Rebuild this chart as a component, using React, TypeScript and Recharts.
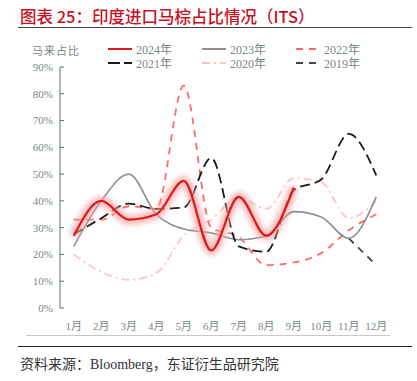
import React from 'react';
import { LineChart, Line, XAxis, YAxis } from 'recharts';

const months = ['1月', '2月', '3月', '4月', '5月', '6月', '7月', '8月', '9月', '10月', '11月', '12月'];
const y2024 = [27, 40, 33, 35, 47.5, 21.5, 41.5, 27, 45, null, null, null];
const y2023 = [23, 40, 50, 35, 29.5, 28, 25.5, 27, 36, 34, 26, 41.5];
const y2022 = [33, 33, 38, 37, 83, 30, 26.5, 16, 17, 20.5, 29, 35];
const y2021 = [27.5, 33.5, 39, 37, 37.5, 56, 23, 21, 44, 48, 65, 49.5];
const y2020 = [20, 13.5, 10.5, 13, 27, 33, 41.5, 37, 48.5, 47, 33.5, 40];
const y2019 = [null, null, null, null, null, null, null, null, null, null, 26, 16];
const yTicks = [0, 10, 20, 30, 40, 50, 60, 70, 80, 90];
const edgeTicks = [0, 1, 2, 3, 4, 5, 6, 7, 8, 9, 10, 11, 12];

const data = months.map((m, i) => ({
  m,
  y2024: y2024[i],
  y2023: y2023[i],
  y2022: y2022[i],
  y2021: y2021[i],
  y2020: y2020[i],
  y2019: y2019[i],
}));

const serif = '"Liberation Serif", "Noto Sans CJK SC", serif';
const axisColor = '#5f6f6f';
const labelColor = '#7a8787';

const legendItems = [
  { name: '2024年', color: '#dc1c1c', dash: undefined, x: 108, y: 49 },
  { name: '2023年', color: '#8f8f8f', dash: undefined, x: 202, y: 49 },
  { name: '2022年', color: '#ff6b6b', dash: '7 6', x: 296, y: 49 },
  { name: '2021年', color: '#1a1a1a', dash: '12 4 5 0', x: 108, y: 63 },
  { name: '2020年', color: '#ffc4c4', dash: '8 4 2 4', x: 202, y: 63 },
  { name: '2019年', color: '#454545', dash: '7 6', x: 296, y: 63 },
];

export default function App() {
  return (
    <div style={{ position: 'absolute', left: 0, top: 0, width: 417, height: 381, background: '#fff', fontFamily: serif }}>
      <div style={{ position: 'absolute', left: 20, top: 4, fontSize: 16.5, color: '#c8101e', fontFamily: '"Noto Sans CJK SC", sans-serif', fontWeight: 500, whiteSpace: 'nowrap' }}>
        图表 25：印度进口马棕占比情况（ITS）
      </div>
      <div style={{ position: 'absolute', left: 18, top: 27, width: 394, height: 1, background: '#444' }} />
      <div style={{ position: 'absolute', left: 32, top: 42, fontSize: 11, color: labelColor, letterSpacing: 1, fontFamily: '"Noto Sans CJK SC", sans-serif' }}>马来占比</div>
      {legendItems.map((it) => (
        <div key={it.name} style={{ position: 'absolute', left: it.x, top: it.y - 8, height: 16, display: 'flex', alignItems: 'center', whiteSpace: 'nowrap' }}>
          <svg width={24} height={4}>
            <line x1={0} y1={2} x2={24} y2={2} stroke={it.color} strokeWidth={2} strokeDasharray={it.dash} />
          </svg>
          <span style={{ marginLeft: 4, fontSize: 12, color: labelColor }}>{it.name}</span>
        </div>
      ))}
      <div style={{ position: 'absolute', left: 0, top: 0 }}>
        <LineChart width={417} height={340} data={data} margin={{ top: 67, right: 27, left: 0, bottom: 2 }}>
          <defs>
            <filter id="glow" x="-10%" y="-20%" width="120%" height="140%">
              <feGaussianBlur stdDeviation="2.5" />
            </filter>
          </defs>
          <XAxis xAxisId="edge" type="number" domain={[0, 12]} ticks={edgeTicks} height={0}
            tickFormatter={() => ''} tickSize={-5} tickLine={{ stroke: axisColor, strokeWidth: 1 }} stroke={axisColor} />
          <XAxis dataKey="m" scale="band" height={30} axisLine={false} tickLine={false} interval={0}
            tickMargin={8} tick={{ fill: labelColor, fontSize: 11, fontFamily: serif }} />
          <YAxis width={60} domain={[0, 90]} ticks={yTicks} tickFormatter={(v) => `${v}%`} tickSize={-4} tickMargin={11}
            tickLine={{ stroke: axisColor, strokeWidth: 1 }} stroke={axisColor} tick={{ fill: labelColor, fontSize: 11, fontFamily: serif }} />
          <Line dataKey="y2020" type="monotone" stroke="#ffc4c4" strokeWidth={1.8} strokeDasharray="8 4 2 4" dot={false} isAnimationActive={false} />
          <Line dataKey="y2019" type="monotone" stroke="#454545" strokeWidth={1.8} strokeDasharray="7 6" dot={false} isAnimationActive={false} />
          <Line dataKey="y2022" type="monotone" stroke="#ff6b6b" strokeWidth={1.8} strokeDasharray="7 6" dot={false} isAnimationActive={false} />
          <Line dataKey="y2023" type="monotone" stroke="#8f8f8f" strokeWidth={1.6} dot={false} isAnimationActive={false} />
          <Line dataKey="y2021" type="monotone" stroke="#1a1a1a" strokeWidth={1.8} strokeDasharray="10 5" dot={false} isAnimationActive={false} />
          <Line dataKey="y2024" type="monotone" stroke="#f4a0a0" strokeWidth={10} strokeOpacity={0.7} filter="url(#glow)" dot={false} isAnimationActive={false} />
          <Line dataKey="y2024" type="monotone" stroke="#dc1c1c" strokeWidth={2.2} dot={false} isAnimationActive={false} />
        </LineChart>
      </div>
      <div style={{ position: 'absolute', left: 26, top: 335, width: 364, height: 1, background: '#c8c8c8' }} />
      <div style={{ position: 'absolute', left: 18, top: 346, width: 394, height: 1, background: '#222' }} />
      <div style={{ position: 'absolute', left: 20, top: 353, fontSize: 14, color: '#333', whiteSpace: 'nowrap' }}>
        资料来源：Bloomberg，东证衍生品研究院
      </div>
    </div>
  );
}
